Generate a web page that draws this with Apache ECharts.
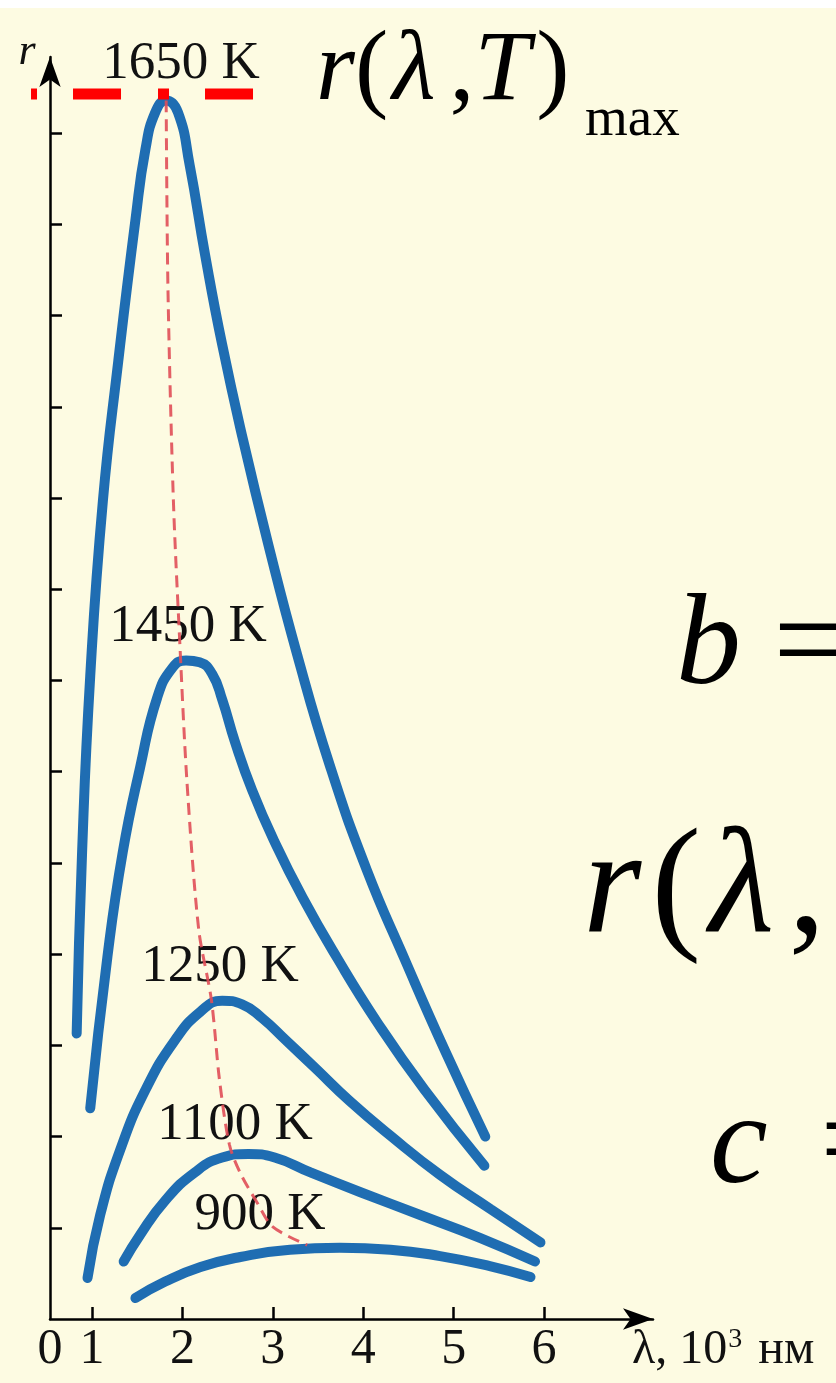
<!DOCTYPE html>
<html>
<head>
<meta charset="utf-8">
<script src="https://cdn.jsdelivr.net/npm/echarts@6/dist/echarts.min.js"></script>
<style>
  html, body { margin: 0; padding: 0; background: #ffffff; }
  #chart { width: 836px; height: 1383px; }
</style>
</head>
<body>
<div id="chart"></div>
<script>
// Spectral radiance of a black body r(λ, T) at several temperatures.
// λ in 10^3 nm, r in axis tick units.
const temperatures = ['1650 K', '1450 K', '1250 K', '1100 K', '900 K'];

const curve1650 = [[0.83,3.13],[0.89,5.12],[0.98,7.05],[1.12,8.97],[1.29,10.50],[1.48,12.05],[1.59,12.82],[1.70,13.23],[1.82,13.36],[1.95,13.23],[2.08,12.65],[2.25,11.67],[2.44,10.68],[2.67,9.64],[2.95,8.49],[3.27,7.28],[3.63,6.07],[4.04,4.92],[4.46,3.94],[4.90,2.95],[5.35,2.00]];
const curve1450 = [[0.98,2.31],[1.17,3.97],[1.34,5.12],[1.53,6.04],[1.72,6.81],[1.89,7.14],[2.04,7.22],[2.19,7.20],[2.33,7.07],[2.44,6.79],[2.58,6.33],[2.77,5.80],[3.02,5.23],[3.33,4.62],[3.71,3.96],[4.15,3.26],[4.68,2.51],[5.34,1.68]];
const curve1250 = [[0.95,0.45],[1.09,1.14],[1.31,1.85],[1.59,2.51],[1.92,3.06],[2.20,3.37],[2.44,3.49],[2.66,3.45],[2.88,3.30],[3.14,3.06],[3.47,2.75],[3.85,2.39],[4.30,2.01],[4.85,1.58],[5.40,1.21],[5.96,0.84]];
const curve1100 = [[1.35,0.63],[1.53,0.92],[1.81,1.30],[2.14,1.61],[2.44,1.77],[2.73,1.81],[3.02,1.77],[3.41,1.61],[3.97,1.39],[4.63,1.14],[5.29,0.89],[5.90,0.63]];
const curve900  = [[1.48,0.23],[1.81,0.41],[2.20,0.57],[2.64,0.68],[3.19,0.76],[3.74,0.78],[4.30,0.76],[4.85,0.69],[5.40,0.58],[5.85,0.46]];

// Locus of the maxima (Wien displacement)
const wienLocus = [[1.82,13.36],[1.84,11.28],[1.90,8.97],[1.97,7.43],[2.05,5.89],[2.18,4.27],[2.32,3.50],[2.41,2.62],[2.52,1.91],[2.64,1.60],[2.83,1.27],[3.00,1.01],[3.38,0.81]];
// Level of the highest maximum r(λ,T)max
const maxLevel = [[0.325,13.43],[2.781,13.43]];

const xTickValues = [1, 2, 3, 4, 5, 6];
const xLabelValues = [0.535, 1, 2, 3, 4, 5, 6];
const yTickValues = [1, 2, 3, 4, 5, 6, 7, 8, 9, 10, 11, 12, 13];

const curves = [curve1650, curve1450, curve1250, curve1100, curve900];

const BLUE = '#1f6db2';
const SERIF = '"Liberation Serif", "Times New Roman", serif';

// Plot geometry: λ axis starts at 0.535 at the origin, 90.4 px per unit
const X_MIN = 0.535, X_MAX = 7.205, Y_MAX = 13.836;
const PX_PER_X = 603 / (X_MAX - X_MIN);
const WIDE_LEFT = 20;
const X_MIN_WIDE = X_MIN - (50 - WIDE_LEFT) / PX_PER_X;

const chart = echarts.init(document.getElementById('chart'), null, { renderer: 'canvas' });

const curveSeries = curves.map((pts, i) => ({
  name: temperatures[i],
  type: 'line',
  data: pts,
  smooth: 0.5,
  symbol: 'none',
  z: 2,
  lineStyle: { color: BLUE, width: 10, cap: 'round', join: 'round' }
}));

function label(text, x, y, size) {
  return {
    type: 'text', z: 1,
    style: { text, x, y, fill: '#111', fontSize: size, fontFamily: SERIF,
             align: 'center', verticalAlign: 'middle' }
  };
}

function formula(text, x, y, size, pads) {
  const p = pads || {};
  const base = { fontSize: size, fontFamily: SERIF, fill: '#000' };
  return {
    type: 'text', z: 1,
    style: {
      text, x, y, align: 'left', verticalAlign: 'middle',
      rich: {
        i: Object.assign({ fontStyle: 'italic' }, base),
        n: base,
        ri: Object.assign({ fontStyle: 'italic', padding: [0, p.r || 0, 0, 0] }, base),
        li: Object.assign({ fontStyle: 'italic', padding: [0, p.l || 0, 0, p.l0 || 0] }, base),
        ti: Object.assign({ fontStyle: 'italic', padding: [0, p.t || 0, 0, 0] }, base),
        eq: Object.assign({ padding: [0, 0, 0, p.e || 0] }, base)
      }
    }
  };
}

const hiddenAxis = { show: false };

const option = {
  backgroundColor: '#fdfbe2',
  animation: false,
  grid: [
    { left: 50, top: 57, width: 603, height: 1262, containLabel: false },
    { left: WIDE_LEFT, top: 57, width: 633, height: 1262, containLabel: false }
  ],
  xAxis: [
    {
      type: 'value', min: X_MIN, max: X_MAX, gridIndex: 0,
      splitLine: { show: false },
      axisLine: { show: true, onZero: false, symbol: ['none', 'arrow'], symbolSize: [16, 30],
                  lineStyle: { color: '#000', width: 2.5 } },
      axisTick: { show: true, inside: true, length: 12, customValues: xTickValues,
                  lineStyle: { color: '#000', width: 2.5 } },
      axisLabel: {
        show: true, customValues: xLabelValues, margin: 31, verticalAlign: 'middle',
        fontSize: 50, fontFamily: SERIF, color: '#111',
        formatter: v => (v < 0.9 ? '0' : String(Math.round(v)))
      }
    },
    Object.assign({ type: 'value', min: X_MIN_WIDE, max: X_MAX, gridIndex: 1 }, hiddenAxis)
  ],
  yAxis: [
    {
      type: 'value', min: 0, max: Y_MAX, interval: 1, gridIndex: 0,
      splitLine: { show: false },
      axisLine: { show: true, onZero: false, symbol: ['none', 'arrow'], symbolSize: [16, 30],
                  lineStyle: { color: '#000', width: 2.5 } },
      axisTick: { show: true, inside: true, length: 12, customValues: yTickValues,
                  lineStyle: { color: '#000', width: 2.5 } },
      axisLabel: { show: false }
    },
    Object.assign({ type: 'value', min: 0, max: Y_MAX, gridIndex: 1 }, hiddenAxis)
  ],
  series: curveSeries.concat([
    {
      name: 'Wien',
      type: 'line', data: wienLocus, smooth: 0.3, symbol: 'none', z: 3,
      lineStyle: { color: 'rgba(224,78,88,0.9)', width: 3, type: [12, 7] }
    },
    {
      name: 'max',
      type: 'line', data: maxLevel, symbol: 'none', z: 4, clip: false,
      xAxisIndex: 1, yAxisIndex: 1,
      lineStyle: { color: '#ff0000', width: 11, cap: 'butt', type: [6, 36, 48, 37, 11, 36, 48, 100] }
    }
  ]),
  graphic: [
    { type: 'rect', z: 0, shape: { x: 0, y: 0, width: 836, height: 8 }, style: { fill: '#ffffff' } },
    label('1650 K', 181, 64, 53),
    label('1450 K', 188, 627, 53),
    label('1250 K', 220, 967, 53),
    label('1100 K', 235, 1125, 53),
    label('900 K', 260, 1215, 53),
    {
      type: 'text', z: 1,
      style: { text: 'r', x: 27, y: 52, fill: '#111', fontSize: 44, fontFamily: SERIF,
               fontStyle: 'italic', align: 'center', verticalAlign: 'middle' }
    },
    {
      type: 'text', z: 1,
      style: {
        text: '{n|λ, 10}{s|3}{n| нм}', x: 632, y: 1350, align: 'left', verticalAlign: 'middle',
        rich: {
          n: { fontSize: 48, fontFamily: SERIF, fill: '#111' },
          s: { fontSize: 28, fontFamily: SERIF, fill: '#111', verticalAlign: 'top', padding: [0, 4, 0, 1] }
        }
      }
    },
    formula('{i|r}{n|(}{li|λ}{n|,}{ti|T}{n|)}', 316, 73, 100, { l: 14, l0: 4, t: 6 }),
    { type: 'text', z: 1, style: { text: 'max', x: 585, y: 121, align: 'left', verticalAlign: 'middle',
                                   fontSize: 55, fontFamily: SERIF, fill: '#000' } },
    formula('{i|b}{n| =}', 676, 649, 130),
    formula('{ri|r}{n|(}{li|λ}{n|,}', 583, 893, 150, { r: 10, l: 14, l0: 8 }),
    formula('{i|c}{eq| =}', 710, 1148, 130, { e: 20 })
  ]
};

chart.setOption(option);
</script>
</body>
</html>
